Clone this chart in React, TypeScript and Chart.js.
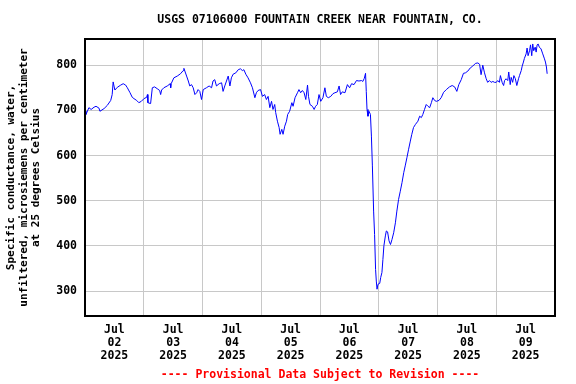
import React, { useEffect, useRef } from 'react';
import { Chart, registerables } from 'chart.js';

Chart.register(...registerables);

const TITLE = 'USGS 07106000 FOUNTAIN CREEK NEAR FOUNTAIN, CO.';
const FOOTER = '---- Provisional Data Subject to Revision ----';
const Y_TITLE = [
  'Specific conductance, water,',
  'unfiltered, microsiemens per centimeter',
  'at 25 degrees Celsius',
];
const MONTH = 'Jul';
const YEAR = '2025';
const DAY_LABELS = ['02', '03', '04', '05', '06', '07', '08', '09'];
const Y_TICKS = [300, 400, 500, 600, 700, 800];

// hours since Jul 02 2025 00:00
const HOURS = [
  0.0, 0.4, 1.6, 2.5, 3.7, 4.5, 5.7, 6.1, 7.8, 9.1, 10.5, 11.1, 11.5, 12.2, 13.2, 14.6, 15.6, 16.6, 17.3, 18.4,
  19.3, 20.0, 21.1, 22.0, 23.0, 24.1, 25.2, 25.5, 25.7, 26.8, 27.5, 28.4, 29.5, 30.5, 30.9, 31.3, 32.2, 33.6, 34.8, 35.0,
  35.2, 36.3, 37.7, 39.0, 40.1, 40.4, 41.5, 42.2, 42.8, 43.5, 44.2, 44.9, 45.6, 46.2, 46.9, 47.6, 48.3, 49.6, 50.7, 51.7,
  52.3, 53.0, 53.7, 54.8, 55.8, 56.4, 57.1, 57.8, 58.5, 59.2, 59.8, 60.5, 61.6, 62.6, 63.5, 64.3, 64.9, 65.7, 66.6, 67.6,
  68.4, 69.4, 70.0, 70.7, 71.7, 72.5, 73.4, 74.1, 74.8, 75.5, 76.2, 76.8, 77.5, 77.9, 78.6, 79.3, 79.7, 80.4, 80.9, 81.6,
  82.3, 82.8, 83.6, 84.5, 85.0, 85.8, 86.8, 87.4, 88.1, 88.8, 89.5, 90.2, 90.9, 91.3, 91.9, 92.9, 93.6, 94.2, 94.9, 95.6,
  96.3, 97.2, 98.0, 98.6, 99.4, 100.4, 101.3, 102.1, 103.1, 103.8, 104.4, 105.1, 106.2, 107.2, 108.1, 108.9, 109.9, 110.9, 111.9, 113.0,
  113.5, 114.1, 114.6, 114.9, 115.2, 115.6, 116.0, 116.6, 117.0, 117.4, 117.9, 118.3, 118.7, 119.0, 119.3, 119.7, 120.4, 120.8, 121.3, 121.7,
  122.1, 122.7, 123.1, 123.6, 124.2, 124.8, 125.4, 126.1, 126.8, 127.4, 128.1, 128.8, 129.5, 130.2, 130.8, 131.5, 132.2, 132.9, 133.5, 134.2,
  135.0, 136.0, 136.7, 137.4, 138.0, 138.7, 139.4, 140.1, 140.8, 141.5, 142.1, 142.8, 143.5, 144.6, 145.5, 146.5, 147.6, 148.9, 150.0, 151.0,
  151.9, 152.7, 153.7, 154.6, 155.4, 156.4, 157.4, 158.4, 159.5, 160.5, 161.2, 161.8, 162.5, 163.2, 163.9, 164.5, 165.2, 165.9, 166.6, 167.3,
  168.0, 168.6, 169.3, 169.7, 170.4, 171.0, 171.4, 172.0, 172.7, 173.1, 173.7, 174.1, 174.7, 175.2, 175.8, 176.4, 177.1, 177.5, 178.2, 178.6,
  179.1, 179.5, 180.2, 180.6, 181.0, 181.6, 182.0, 182.5, 182.9, 183.3, 183.9, 184.3, 184.7, 185.1, 185.6, 186.3, 187.0, 187.7, 188.1, 188.5,
  188.8,
];

// specific conductance, uS/cm at 25 C
const VALUES = [
  698, 691, 706, 702, 707, 709, 705, 698, 704, 711, 722, 735, 763, 745, 751, 756, 759, 756, 750, 739,
  729, 726, 722, 717, 720, 726, 729, 735, 717, 715, 750, 752, 748, 744, 735, 745, 750, 754, 759, 750,
  759, 772, 776, 781, 788, 793, 776, 765, 754, 757, 750, 735, 739, 746, 742, 724, 746, 750, 754, 750,
  765, 768, 754, 759, 761, 742, 754, 765, 776, 754, 772, 780, 783, 790, 792, 788, 790, 780, 772, 761,
  750, 728, 739, 744, 746, 731, 735, 724, 731, 706, 720, 702, 713, 695, 676, 662, 647, 658, 647, 665,
  676, 691, 698, 717, 709, 728, 739, 746, 739, 744, 739, 724, 756, 731, 713, 709, 702, 709, 713, 735,
  720, 728, 750, 731, 728, 731, 737, 739, 741, 754, 735, 741, 739, 757, 750, 759, 757, 766, 765, 766,
  764, 771, 782, 742, 702, 687, 698, 691, 643, 577, 477, 425, 348, 322, 304, 315, 317, 330, 341, 370,
  400, 422, 433, 431, 411, 403, 414, 429, 451, 477, 503, 521, 540, 562, 577, 595, 614, 632, 647, 662,
  669, 676, 687, 684, 691, 702, 713, 709, 706, 717, 728, 722, 720, 722, 728, 740, 746, 752, 755, 752,
  742, 757, 768, 782, 783, 787, 794, 798, 804, 805, 802, 779, 800, 783, 770, 762, 766, 762, 764, 762,
  762, 766, 762, 777, 762, 755, 766, 770, 766, 785, 757, 773, 762, 777, 770, 755, 770, 777, 788, 798,
  807, 815, 825, 838, 821, 832, 845, 821, 847, 832, 840, 829, 845, 847, 840, 836, 825, 814, 807, 796,
  781,
];

const FONT_FAMILY = '"DejaVu Sans Mono", "Liberation Mono", monospace';

const framePlugin = {
  id: 'frame',
  afterDraw(chart: any) {
    const { ctx, chartArea: a } = chart;
    ctx.save();
    ctx.strokeStyle = '#000000';
    ctx.lineWidth = 2;
    ctx.strokeRect(a.left, a.top, a.right - a.left, a.bottom - a.top);
    ctx.font = `bold 11.5px ${FONT_FAMILY}`;
    ctx.textAlign = 'center';
    ctx.textBaseline = 'middle';
    const cx = (a.left + a.right) / 2;
    ctx.fillStyle = '#000000';
    ctx.fillText(TITLE, cx, a.top - 19);
    ctx.fillStyle = '#ff0000';
    ctx.fillText(FOOTER, cx, chart.height - 9);
    ctx.restore();
  },
};

export default function App() {
  const ref = useRef<HTMLCanvasElement | null>(null);

  useEffect(() => {
    if (!ref.current) return;
    const tickHours: number[] = [];
    for (let i = 0; i < DAY_LABELS.length; i++) {
      tickHours.push(i * 24 + 12);
      if (i < DAY_LABELS.length - 1) tickHours.push(i * 24 + 24);
    }
    const tickFont = { family: FONT_FAMILY, size: 11.5, weight: 'bold' as const, lineHeight: 1.13 };
    const chart = new Chart(ref.current, {
      type: 'line',
      data: {
        datasets: [
          {
            data: HOURS.map((h, i) => ({ x: h, y: VALUES[i] })),
            borderColor: '#0000ff',
            borderWidth: 1,
            pointRadius: 0,
            tension: 0,
            fill: false,
          },
        ],
      },
      options: {
        animation: false,
        responsive: false,
        maintainAspectRatio: false,
        layout: { padding: { top: 39, right: 21, bottom: 0, left: 0 } },
        plugins: {
          legend: { display: false },
          tooltip: { enabled: false },
          title: { display: false },
        },
        scales: {
          x: {
            type: 'linear',
            min: 0,
            max: 192,
            afterBuildTicks: (s: any) => {
              s.ticks = tickHours.map((v) => ({ value: v }));
            },
            afterFit: (s: any) => {
              s.height = 68;
            },
            border: { display: false },
            grid: {
              drawTicks: false,
              lineWidth: 1,
              color: (c: any) =>
                c.tick && c.tick.value % 24 === 0 ? '#c8c8c8' : 'rgba(0,0,0,0)',
            },
            ticks: {
              autoSkip: false,
              maxRotation: 0,
              minRotation: 0,
              padding: 7.5,
              color: '#000000',
              font: tickFont,
              callback: (v: any) => {
                const n = Number(v);
                if (n % 24 !== 12) return '';
                const idx = Math.round((n - 12) / 24);
                return [MONTH, DAY_LABELS[idx], YEAR];
              },
            },
          },
          y: {
            type: 'linear',
            min: 244.7,
            max: 858,
            afterBuildTicks: (s: any) => {
              s.ticks = Y_TICKS.map((v) => ({ value: v }));
            },
            afterFit: (s: any) => {
              s.width = 85;
            },
            border: { display: false },
            grid: { drawTicks: false, color: '#c8c8c8', lineWidth: 1 },
            ticks: {
              padding: 8,
              color: '#000000',
              font: tickFont,
              callback: (v: any) => String(v),
            },
            title: {
              display: true,
              text: Y_TITLE,
              color: '#000000',
              font: { family: FONT_FAMILY, size: 11, weight: 'bold', lineHeight: 1.15 },
              padding: { top: 5, bottom: 0 },
            },
          },
        },
      },
      plugins: [framePlugin],
    });
    return () => chart.destroy();
  }, []);

  return (
    <div style={{ position: 'fixed', left: 0, top: 0, width: 576, height: 384, background: '#ffffff' }}>
      <canvas ref={ref} width={576} height={384} style={{ display: 'block' }} />
    </div>
  );
}
